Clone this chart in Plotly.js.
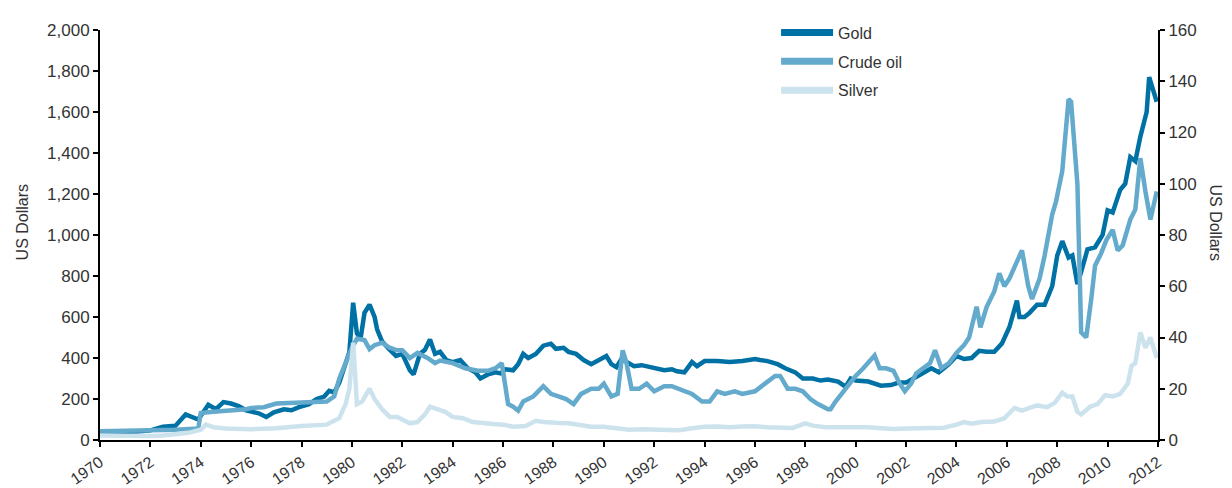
<!DOCTYPE html>
<html>
<head>
<meta charset="utf-8">
<script src="https://cdn.plot.ly/plotly-3.0.1.min.js"></script>
<style>
  body { margin: 0; background: #fff; }
  #chart { width: 1232px; height: 488px; }
</style>
</head>
<body>
<div id="chart"></div>
<script>
// Data (decimal years, monthly-average prices)
let goldYears = [1970, 1970.5, 1971, 1971.5, 1972, 1972.5, 1973, 1973.4, 1973.9, 1974.3, 1974.6, 1974.9, 1975.2, 1975.5, 1975.8,
  1976.3, 1976.6, 1976.9, 1977.3, 1977.6, 1977.9, 1978.3, 1978.6, 1978.9, 1979.1, 1979.3, 1979.5, 1979.75, 1979.9,
  1980.05, 1980.2, 1980.35, 1980.5, 1980.7, 1980.9, 1981.0, 1981.2, 1981.5, 1981.75, 1982.0, 1982.3, 1982.45, 1982.7,
  1982.9, 1983.1, 1983.3, 1983.5, 1983.75, 1984.0, 1984.3, 1984.6, 1984.9, 1985.1, 1985.4, 1985.7, 1985.9, 1986.1,
  1986.4, 1986.6, 1986.8, 1987.0, 1987.3, 1987.6, 1987.9, 1988.1, 1988.4, 1988.6, 1988.9, 1989.2, 1989.5, 1989.9,
  1990.1, 1990.3, 1990.5, 1990.7, 1990.9, 1991.2, 1991.5, 1991.8, 1992.1, 1992.4, 1992.7, 1992.9, 1993.2, 1993.5,
  1993.7, 1994.0, 1994.5, 1995.0, 1995.5, 1996.0, 1996.2, 1996.5, 1996.9, 1997.2, 1997.6, 1997.9, 1998.3, 1998.6,
  1998.9, 1999.3, 1999.6, 1999.8, 2000.0, 2000.5, 2001.0, 2001.4, 2001.7, 2002.0, 2002.5, 2003.0, 2003.3, 2003.7,
  2004.0, 2004.3, 2004.6, 2004.9, 2005.2, 2005.5, 2005.8, 2006.1, 2006.4, 2006.5, 2006.7, 2006.9, 2007.2, 2007.5,
  2007.8, 2008.0, 2008.2, 2008.45, 2008.6, 2008.8, 2008.95, 2009.2, 2009.5, 2009.8, 2010.0, 2010.2, 2010.5, 2010.7,
  2010.9, 2011.1, 2011.3, 2011.55, 2011.65, 2011.8, 2011.95];
let goldValues = [35, 36, 38, 41, 47, 65, 70, 125, 100, 172, 150, 185, 178, 165, 145,
  130, 112, 135, 150, 145, 160, 175, 200, 212, 240, 232, 280, 380, 430,
  670, 520, 500, 620, 660, 600, 540, 480, 440, 410, 420, 340, 320, 420,
  440, 490, 420, 430, 390, 380, 390, 350, 330, 300, 320, 330, 325, 345,
  340, 370, 420, 400, 420, 460, 470, 445, 450, 430, 420, 390, 370, 400,
  410, 370, 355, 395, 380, 360, 365, 355, 350, 340, 345, 335, 330, 380,
  360, 385, 385, 380, 385, 395, 390, 385, 370, 350, 330, 300, 300, 290,
  295, 285, 260, 300, 290, 285, 265, 268, 280, 280, 315, 350, 330, 370,
  410, 395, 400, 435, 430, 430, 470, 550, 680, 600, 600, 620, 660, 660,
  750, 900, 970, 890, 900, 760, 820, 930, 940, 1000, 1120, 1110, 1220, 1250,
  1380, 1360, 1480, 1600, 1770, 1700, 1650];

let oilYears = [1970, 1971, 1972, 1973, 1973.9, 1974.0, 1974.5, 1975.0, 1975.8, 1976.0, 1976.5, 1977.0, 1978.0, 1979.0,
  1979.3, 1979.5, 1979.75, 1980.0, 1980.2, 1980.5, 1980.7, 1980.9, 1981.2, 1981.5, 1981.8, 1982.0, 1982.3, 1982.6,
  1983.0, 1983.3, 1983.5, 1984.0, 1984.5, 1985.0, 1985.4, 1985.7, 1985.95, 1986.2, 1986.4, 1986.6, 1986.8, 1987.2,
  1987.6, 1987.9, 1988.2, 1988.5, 1988.8, 1989.1, 1989.5, 1989.8, 1990.0, 1990.3, 1990.55, 1990.75, 1990.9, 1991.1,
  1991.4, 1991.7, 1992.0, 1992.4, 1992.7, 1993.0, 1993.5, 1993.9, 1994.2, 1994.5, 1994.8, 1995.2, 1995.5, 1996.0,
  1996.4, 1996.8, 1997.0, 1997.3, 1997.6, 1997.9, 1998.2, 1998.5, 1998.9, 1999.0, 1999.2, 1999.5, 1999.8, 2000.0,
  2000.3, 2000.5, 2000.75, 2000.95, 2001.2, 2001.5, 2001.75, 2001.95, 2002.2, 2002.4, 2002.7, 2002.95, 2003.15,
  2003.4, 2003.7, 2004.0, 2004.3, 2004.5, 2004.8, 2004.95, 2005.2, 2005.5, 2005.7, 2005.9, 2006.1, 2006.4, 2006.6,
  2006.85, 2007.0, 2007.3, 2007.5, 2007.8, 2007.95, 2008.2, 2008.45, 2008.55, 2008.8, 2008.95, 2009.15, 2009.35,
  2009.5, 2009.75, 2009.95, 2010.2, 2010.4, 2010.6, 2010.9, 2011.1, 2011.3, 2011.5, 2011.7, 2011.95];
let oilValues = [3.4, 3.6, 3.6, 4.0, 4.5, 10.5, 11, 11.3, 12, 12.5, 12.8, 14.2, 14.8, 15,
  17, 24, 30, 36, 39.5, 39, 35.5, 37, 38, 36, 35, 35, 32, 34,
  32, 30, 31, 30, 28, 27, 27, 28, 30, 14, 13, 11.5, 15, 17,
  21, 18, 17, 16, 14, 18, 20, 20, 22, 17, 18, 35, 30, 20,
  20, 22, 19, 21, 21, 20, 18, 15, 15, 19, 18, 19, 18, 19,
  22, 25, 25, 20, 20, 19, 16, 14, 12, 12, 15, 19, 23, 25,
  28, 30, 33, 28, 28, 27, 22, 19, 22, 26, 28, 30, 35,
  28, 30, 34, 37, 40, 52, 44, 52, 58, 65, 60, 63, 70, 74,
  60, 55, 63, 72, 88, 93, 105, 133, 132, 100, 42, 40, 55,
  68, 73, 78, 82, 74, 76, 86, 90, 110, 97, 86, 97];

let silverYears = [1970, 1970.5, 1971, 1971.5, 1972, 1972.5, 1973, 1973.5, 1974.0, 1974.2, 1974.5, 1975.0, 1976.0, 1977.0,
  1978.0, 1979.0, 1979.5, 1979.75, 1979.9, 1980.05, 1980.2, 1980.4, 1980.7, 1980.9, 1981.2, 1981.5, 1981.8, 1982.3,
  1982.6, 1982.9, 1983.1, 1983.4, 1983.7, 1984.0, 1984.4, 1984.8, 1985.2, 1985.6, 1986.0, 1986.4, 1986.9, 1987.3,
  1987.6, 1987.9, 1988.2, 1988.6, 1989.0, 1989.5, 1990.0, 1990.5, 1991.0, 1991.5, 1992.0, 1992.5, 1993.0, 1993.5,
  1994.0, 1994.5, 1995.0, 1995.5, 1996.0, 1996.5, 1997.0, 1997.5, 1998.0, 1998.3, 1998.8, 1999.2, 1999.6, 2000.0,
  2000.5, 2001.0, 2001.5, 2002.0, 2002.5, 2003.0, 2003.5, 2004.0, 2004.3, 2004.6, 2005.0, 2005.5, 2005.9, 2006.3,
  2006.6, 2006.9, 2007.2, 2007.6, 2007.9, 2008.2, 2008.4, 2008.6, 2008.8, 2008.95, 2009.3, 2009.6, 2009.9, 2010.2,
  2010.5, 2010.8, 2010.95, 2011.1, 2011.3, 2011.5, 2011.7, 2011.95];
let silverValues = [1.8, 1.7, 1.6, 1.5, 1.6, 1.8, 2.2, 2.8, 4.0, 6, 5, 4.5, 4.2, 4.6,
  5.5, 6, 8.5, 14, 20, 38, 14, 15, 20, 16, 12, 9, 9, 6.5,
  7, 10, 13, 12, 11, 9, 8.5, 7, 6.5, 6.2, 6, 5.2, 5.5, 7.5,
  7, 7, 6.6, 6.5, 5.8, 5.2, 5.2, 4.8, 4.0, 4.2, 4.0, 3.9, 3.8, 4.6,
  5.2, 5.3, 5.0, 5.3, 5.4, 5.0, 4.8, 4.7, 6.5, 5.6, 5.0, 5.1, 5.2, 5.2,
  5.0, 4.6, 4.3, 4.5, 4.7, 4.6, 4.8, 6.0, 7.0, 6.4, 7.0, 7.2, 8.5, 12.5,
  11.5, 12.5, 13.5, 12.8, 14.5, 18.5, 17, 17, 11, 10, 13, 14, 17.5, 17,
  18, 22, 29, 30, 42, 36, 40, 32];

let seriesNames = ["Gold", "Crude oil", "Silver"];
let seriesColors = ["#0071a4", "#64aacc", "#cce3ee"];

function createChart() {
  let lineStyle = { width: 4.5 };

  let traces = [{
    x: goldYears, y: goldValues, yaxis: "y", mode: "lines",
    line: Object.assign({ color: seriesColors[0] }, lineStyle),
    showlegend: false, hoverinfo: "skip"
  }, {
    x: oilYears, y: oilValues, yaxis: "y2", mode: "lines",
    line: Object.assign({ color: seriesColors[1] }, lineStyle),
    showlegend: false, hoverinfo: "skip"
  }, {
    x: silverYears, y: silverValues, yaxis: "y2", mode: "lines",
    line: Object.assign({ color: seriesColors[2] }, lineStyle),
    showlegend: false, hoverinfo: "skip"
  }];

  // legend-only traces with thicker swatches
  seriesNames.forEach((name, i) => {
    traces.push({
      x: [null], y: [null], mode: "lines", name: name,
      legendgroup: "g" + i,
      line: { color: seriesColors[i], width: 7 },
      showlegend: true
    });
  });

  let axisStyle = {
    showline: true, linecolor: "#000", linewidth: 2,
    ticks: "outside", ticklen: 5, tickwidth: 2, tickcolor: "#000",
    showgrid: false, zeroline: false,
    tickfont: { size: 17, color: "#333" }
  };

  let layout = {
    width: 1232, height: 488,
    margin: { l: 100, r: 74, t: 30, b: 48 },
    paper_bgcolor: "#fff", plot_bgcolor: "#fff",
    font: { family: "Liberation Sans, Arial, sans-serif", color: "#333" },
    xaxis: Object.assign({}, axisStyle, {
      range: [1970, 2012], tick0: 1970, dtick: 2, tickangle: -35,
      tickfont: { size: 16, color: "#333" }
    }),
    yaxis: Object.assign({}, axisStyle, {
      range: [0, 2000], dtick: 200, tickformat: ",d"
    }),
    yaxis2: Object.assign({}, axisStyle, {
      range: [0, 160], dtick: 20, overlaying: "y", side: "right"
    }),
    legend: {
      x: 0.639, y: 1.035, xanchor: "left", yanchor: "top",
      bgcolor: "rgba(0,0,0,0)", font: { size: 16, color: "#333" },
      itemwidth: 52, tracegroupgap: 5
    },
    annotations: [{
      text: "US Dollars", xref: "paper", yref: "paper",
      x: -0.083, y: 0.53, showarrow: false, textangle: -90,
      font: { size: 16, color: "#333" }
    }, {
      text: "US Dollars", xref: "paper", yref: "paper",
      x: 1.064, y: 0.53, showarrow: false, textangle: 90,
      font: { size: 16, color: "#333" }
    }]
  };

  Plotly.newPlot("chart", traces, layout, { staticPlot: true });
}

createChart();
</script>
</body>
</html>
